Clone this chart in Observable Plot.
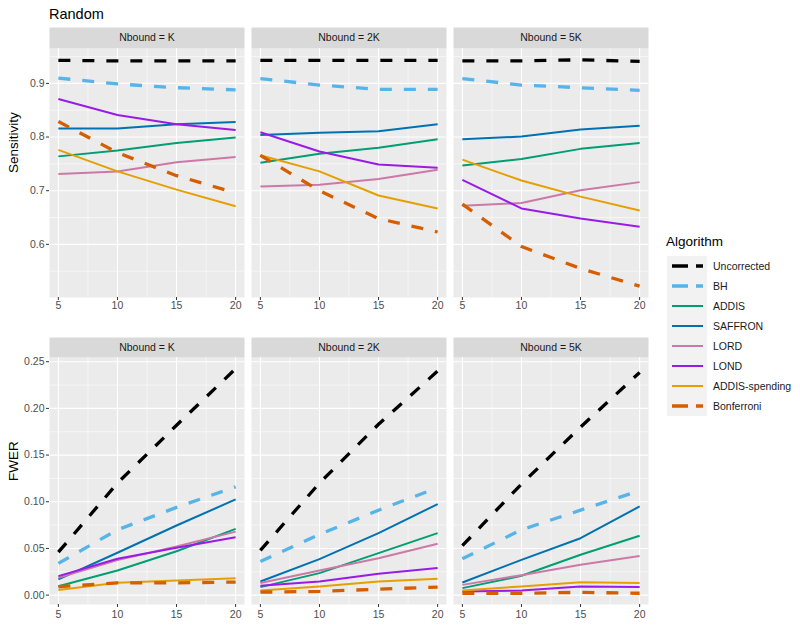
<!DOCTYPE html>
<html>
<head>
<meta charset="utf-8">
<script src="https://cdn.jsdelivr.net/npm/d3@7"></script>
<script src="https://cdn.jsdelivr.net/npm/@observablehq/plot@0.6"></script>
<style>
  body { margin: 0; background: #fff; font-family: "Liberation Sans", Arial, Helvetica, sans-serif; }
  #chart { position: relative; width: 800px; height: 626px; overflow: hidden; background: #fff; }
  #chart svg.plot { position: absolute; left: 0; }
  .title { position: absolute; left: 49px; top: 7px; font-size: 14.5px; line-height: 1; color: #000; }
  .legend-title { position: absolute; left: 666px; top: 235px; font-size: 13.5px; line-height: 1; color: #000; }
  .legend-rows { position: absolute; left: 667px; top: 256px; }
  .legend-row { display: flex; align-items: center; height: 20px; }
  .legend-row svg { display: block; }
  .legend-row span { margin-left: 6px; font-size: 10.5px; color: #1A1A1A; white-space: nowrap; }
</style>
</head>
<body>
<div id="chart"></div>
<script>
// ---- data ----
const nbound = ["K", "2K", "5K"];
const sizes = [5, 10, 15, 20];
const algorithms = ["Uncorrected", "BH", "ADDIS", "SAFFRON", "LORD", "LOND", "ADDIS-spending", "Bonferroni"];
const colors = ["#000000", "#56B4E9", "#009E73", "#0072B2", "#CC79A7", "#9A1AE6", "#E69F00", "#D55E00"];
const dashedAlgorithms = ["Uncorrected", "BH", "Bonferroni"];

// each row: one algorithm (same order as algorithms); values for K (5,10,15,20), 2K (...), 5K (...)
const sensitivity = [
  [0.943, 0.942, 0.942, 0.942,  0.943, 0.943, 0.943, 0.943,  0.942, 0.942, 0.944, 0.941],
  [0.910, 0.899, 0.892, 0.888,  0.909, 0.897, 0.889, 0.889,  0.909, 0.897, 0.892, 0.887],
  [0.764, 0.775, 0.789, 0.799,  0.752, 0.769, 0.780, 0.796,  0.747, 0.759, 0.778, 0.789],
  [0.816, 0.816, 0.824, 0.828,  0.804, 0.808, 0.811, 0.824,  0.796, 0.801, 0.814, 0.821],
  [0.731, 0.736, 0.753, 0.763,  0.708, 0.711, 0.722, 0.739,  0.672, 0.677, 0.701, 0.716],
  [0.871, 0.841, 0.824, 0.813,  0.809, 0.773, 0.749, 0.743,  0.720, 0.667, 0.648, 0.633],
  [0.776, 0.736, 0.702, 0.671,  0.766, 0.736, 0.691, 0.667,  0.758, 0.719, 0.689, 0.663],
  [0.829, 0.771, 0.728, 0.696,  0.766, 0.700, 0.648, 0.623,  0.675, 0.596, 0.555, 0.522]
];
const fwer = [
  [0.046, 0.120, 0.182, 0.2425,  0.048, 0.120, 0.183, 0.240,  0.053, 0.119, 0.180, 0.2385],
  [0.034, 0.070, 0.094, 0.116,   0.036, 0.065, 0.091, 0.115,  0.039, 0.070, 0.091, 0.112],
  [0.0096, 0.0264, 0.047, 0.071, 0.0086, 0.0236, 0.045, 0.0664, 0.0075, 0.0207, 0.0432, 0.0636],
  [0.0168, 0.0454, 0.0746, 0.1025, 0.0146, 0.0386, 0.0664, 0.0975, 0.0135, 0.0378, 0.061, 0.095],
  [0.0186, 0.0375, 0.052, 0.068, 0.0129, 0.0264, 0.0396, 0.055, 0.011, 0.0214, 0.0325, 0.042],
  [0.0204, 0.039, 0.0507, 0.062, 0.010, 0.0146, 0.0228, 0.029, 0.0039, 0.005, 0.0093, 0.0086],
  [0.0054, 0.0132, 0.0157, 0.0182, 0.005, 0.0093, 0.0146, 0.0175, 0.005, 0.0093, 0.0139, 0.0129],
  [0.009, 0.0132, 0.0132, 0.014, 0.0032, 0.004, 0.0064, 0.0086, 0.002, 0.002, 0.003, 0.002]
];
const sensTicks = [0.6, 0.7, 0.8, 0.9];
const sensMinor = [0.55, 0.65, 0.75, 0.85, 0.95];
const fwerTicks = [0, 0.05, 0.10, 0.15, 0.20, 0.25];
const fwerMinor = [0.025, 0.075, 0.125, 0.175, 0.225];
const xMinor = [7.5, 12.5, 17.5];

function tidy(rows) {
  const out = [];
  algorithms.forEach((alg, i) => {
    nbound.forEach((nb, j) => {
      sizes.forEach((n, k) => out.push({alg, nb, n, v: rows[i][j * sizes.length + k]}));
    });
  });
  return out;
}

const FONT = '"Liberation Sans", Arial, Helvetica, sans-serif';

function panelPlot({rows, ticks, minor, fmt, yTitle, height, marginTop, marginBottom, stripH, xPad}) {
  const data = tidy(rows);
  const ext = d3.extent(data, d => d.v);
  const pad = (ext[1] - ext[0]) * 0.05;
  const xexp = (sizes[sizes.length - 1] - sizes[0]) * 0.05;
  const innerH = height - marginTop - marginBottom;
  const marks = [
    Plot.frame({fill: "#EBEBEB"}),
    Plot.frame({fill: "#D9D9D9", insetTop: -stripH, insetBottom: innerH}),
    Plot.gridY(minor, {stroke: "#FFFFFF", strokeOpacity: 1, strokeWidth: 0.55}),
    Plot.gridX(xMinor, {stroke: "#FFFFFF", strokeOpacity: 1, strokeWidth: 0.55}),
    Plot.gridY(ticks, {stroke: "#FFFFFF", strokeOpacity: 1, strokeWidth: 1.1}),
    Plot.gridX(sizes, {stroke: "#FFFFFF", strokeOpacity: 1, strokeWidth: 1.1}),
    ...algorithms.map(a => {
      const dashed = dashedAlgorithms.includes(a);
      return Plot.line(data.filter(d => d.alg === a), {
        x: "n", y: "v", fx: "nb", z: "nb", stroke: "alg",
        strokeWidth: dashed ? 3.3 : 2,
        strokeDasharray: dashed ? "12,12" : undefined,
        strokeLinecap: "butt", strokeLinejoin: "round"
      });
    }),
    Plot.axisY(ticks, {tickSize: 3, tickPadding: 2, tickFormat: fmt, fontSize: 10.5, fill: "#4D4D4D", stroke: "#333333", label: null}),
    Plot.axisX(sizes, {tickSize: 3, tickPadding: xPad, fontSize: 10.5, fill: "#4D4D4D", stroke: "#333333", label: null}),
    Plot.text([{nb: nbound[0], t: yTitle}], {fx: "nb", text: "t", frameAnchor: "left", dx: -36, rotate: -90, fontSize: 13.5, fill: "#000"}),
    Plot.text(nbound.map(nb => ({nb, t: `Nbound = ${nb}`})), {fx: "nb", text: "t", frameAnchor: "top", dy: -stripH / 2, lineAnchor: "middle", fontSize: 10.5, fill: "#1A1A1A"})
  ];
  return Plot.plot({
    width: 800, height,
    marginLeft: 49, marginRight: 152, marginTop, marginBottom,
    style: {fontFamily: FONT, background: "transparent", overflow: "visible"},
    fx: {domain: nbound, paddingInner: 7 / 202, paddingOuter: 0, axis: null, label: null},
    x: {domain: [sizes[0] - xexp, sizes[sizes.length - 1] + xexp]},
    y: {domain: [ext[0] - pad, ext[1] + pad]},
    color: {domain: algorithms, range: colors},
    marks
  });
}

const chart = d3.select("#chart");
chart.append("div").attr("class", "title").text("Random");

const topPlot = panelPlot({rows: sensitivity, ticks: sensTicks, minor: sensMinor, fmt: d3.format(".1f"),
  yTitle: "Sensitivity", height: 320, marginTop: 48, marginBottom: 23, stripH: 21, xPad: 1});
topPlot.classList.add("plot");
topPlot.style.top = "0px";
chart.node().appendChild(topPlot);

const bottomPlot = panelPlot({rows: fwer, ticks: fwerTicks, minor: fwerMinor, fmt: d3.format(".2f"),
  yTitle: "FWER", height: 306, marginTop: 37, marginBottom: 22, stripH: 20, xPad: 3});
bottomPlot.classList.add("plot");
bottomPlot.style.top = "320px";
chart.node().appendChild(bottomPlot);

// legend
chart.append("div").attr("class", "legend-title").text("Algorithm");
const rowsDiv = chart.append("div").attr("class", "legend-rows");
algorithms.forEach((a, i) => {
  const dashed = dashedAlgorithms.includes(a);
  const row = rowsDiv.append("div").attr("class", "legend-row");
  const svg = row.append("svg").attr("width", 40).attr("height", 20);
  svg.append("rect").attr("width", 40).attr("height", 20).attr("fill", "#F2F2F2");
  svg.append("line").attr("x1", 5).attr("x2", 36).attr("y1", 10).attr("y2", 10)
    .attr("stroke", colors[i]).attr("stroke-width", dashed ? 3.3 : 2)
    .attr("stroke-dasharray", dashed ? "16,8" : null);
  row.append("span").text(a);
});
</script>
</body>
</html>
